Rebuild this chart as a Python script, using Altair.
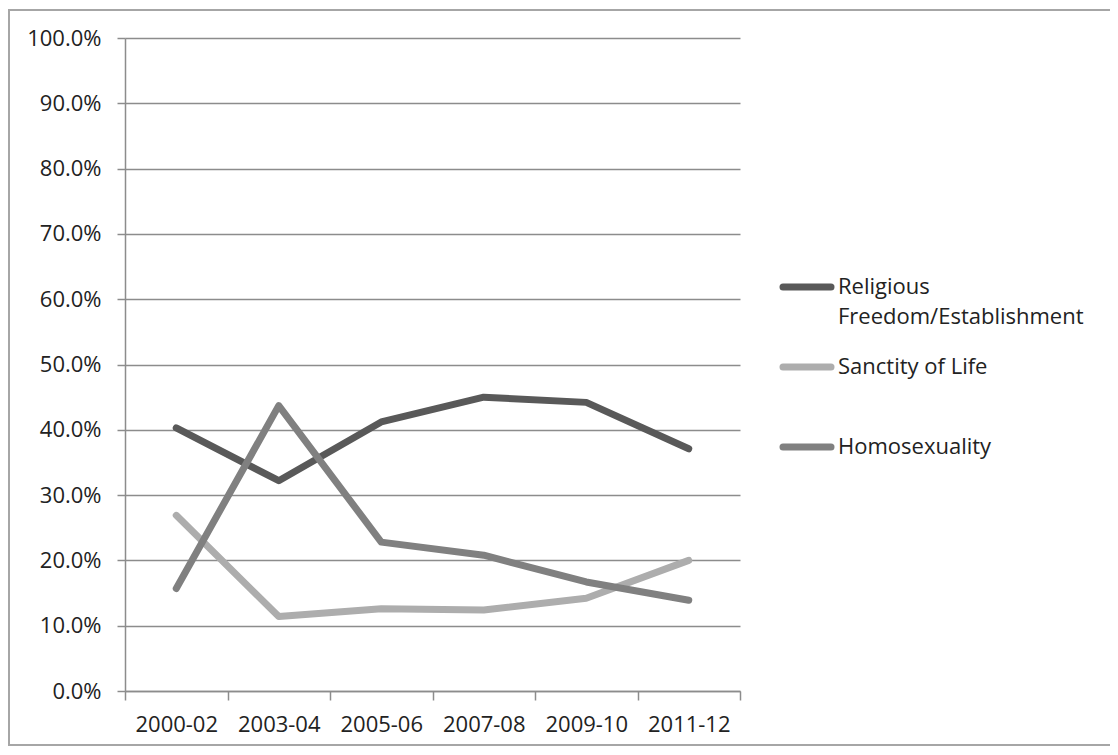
import altair as alt
import pandas as pd

periods = ["2000-02", "2003-04", "2005-06", "2007-08", "2009-10", "2011-12"]
series_names = ["Religious Freedom/Establishment", "Sanctity of Life", "Homosexuality"]
religious = [0.403, 0.322, 0.412, 0.450, 0.442, 0.371]
sanctity = [0.269, 0.114, 0.126, 0.124, 0.142, 0.200]
homosexuality = [0.157, 0.437, 0.228, 0.208, 0.167, 0.139]
legend_labels = ["Religious\nFreedom/Establishment", "Sanctity of Life", "Homosexuality"]
colors = ["#595959", "#adadad", "#808080"]
y_ticks = [0.0, 0.1, 0.2, 0.3, 0.4, 0.5, 0.6, 0.7, 0.8, 0.9, 1.0]

FONT = "Open Sans"
FS = 22
TXT = "#222222"
GRID = "#8c8c8c"

rows = []
for name, vals in zip(series_names, [religious, sanctity, homosexuality]):
    for p, v in zip(periods, vals):
        rows.append({"series": name, "period": p, "value": v})
df = pd.DataFrame(rows)
leg = pd.DataFrame({"series": series_names, "label": legend_labels})

color = alt.Color("series:N", scale=alt.Scale(domain=series_names, range=colors), legend=None)
x = alt.X("period:N", sort=periods,
          scale=alt.Scale(type="band", paddingInner=0, paddingOuter=0),
          axis=alt.Axis(title=None, labelAngle=0, tickBand="extent", tickSize=9,
                        tickColor=GRID, tickWidth=1.5, domainColor=GRID, domainWidth=1.5,
                        labelPadding=14, labelFont=FONT, labelFontSize=FS, labelColor=TXT,
                        grid=False))
y = alt.Y("value:Q", scale=alt.Scale(domain=[0, 1], nice=False, zero=True),
          axis=alt.Axis(title=None, values=y_ticks, format=".1%", tickSize=8,
                        tickColor=GRID, tickWidth=1.5, domainColor=GRID, domainWidth=1.5,
                        grid=True, gridColor=GRID, gridWidth=1.5,
                        labelPadding=16, labelFont=FONT, labelFontSize=FS, labelColor=TXT))

line_layers = []
for name in series_names:
    line_layers.append(
        alt.Chart(df).transform_filter(alt.datum.series == name)
        .mark_line(strokeWidth=7, strokeCap="round", strokeJoin="round")
        .encode(x=x, y=y, color=color)
    )
lines = alt.layer(*line_layers)

ly = alt.Y("series:N", scale=alt.Scale(type="point", domain=series_names, range=[249, 409], padding=0), axis=None)
leg_rule = alt.Chart(leg).mark_rule(strokeWidth=7, strokeCap="round").encode(
    x=alt.value(658), x2=alt.value(706), y=ly, color=color)
leg_text = alt.Chart(leg).mark_text(align="left", baseline="top", dy=-10, lineBreak="\n",
                                    lineHeight=30, font=FONT, fontSize=FS, color=TXT).encode(
    x=alt.value(713), y=ly, text="label:N")
legend = alt.layer(leg_rule, leg_text)

border = alt.Chart(pd.DataFrame({"a": [0]})).mark_rect(
    fill="transparent", stroke="#a6a6a6", strokeWidth=2).encode(
    x=alt.value(-116), x2=alt.value(1010), y=alt.value(-28), y2=alt.value(707))

chart = alt.layer(border, lines, legend).resolve_scale(y="independent").properties(
    width=615, height=653,
    autosize=alt.AutoSizeParams(type="none"),
    padding={"left": 117, "top": 30, "right": 370, "bottom": 55},
    background="white",
).configure_view(stroke=None)

chart.save("out.html", embed_options={"renderer": "svg", "actions": False})
